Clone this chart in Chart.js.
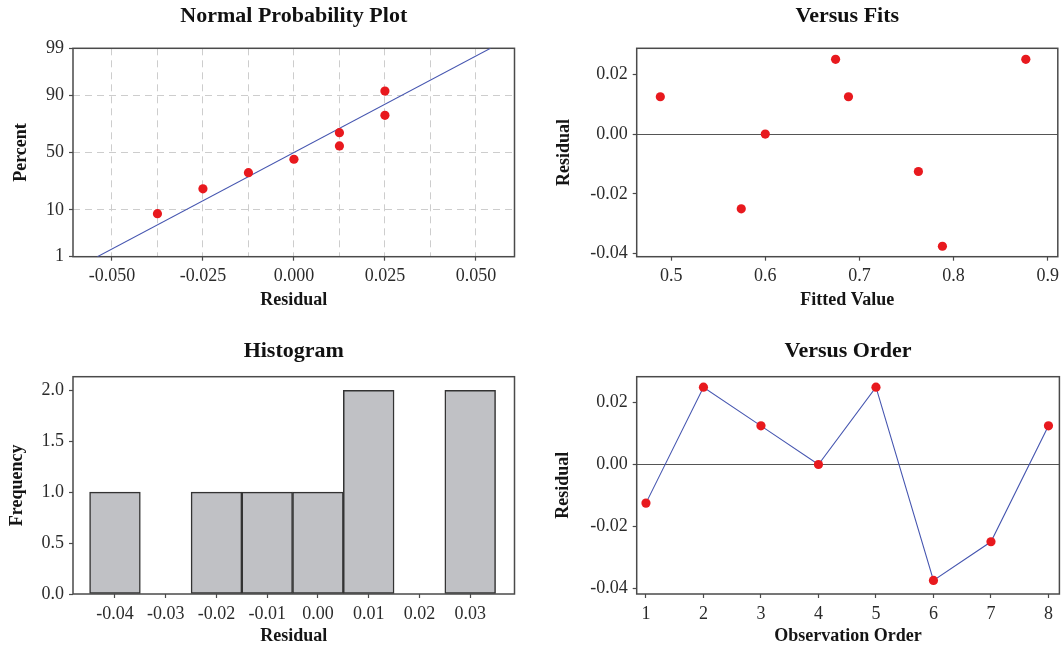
<!DOCTYPE html>
<html>
<head>
<meta charset="utf-8">
<script src="https://cdn.jsdelivr.net/npm/chart.js@4.4.1/dist/chart.umd.min.js"></script>
<style>
  html, body { margin: 0; padding: 0; background: #fff; overflow: hidden; }
  .cell { position: absolute; width: 532px; height: 325px; }
</style>
</head>
<body>
<div class="cell" style="left:0;top:0"><canvas id="npp" width="532" height="325"></canvas></div>
<div class="cell" style="left:532px;top:0"><canvas id="fits" width="532" height="325"></canvas></div>
<div class="cell" style="left:0;top:325px"><canvas id="hist" width="532" height="325"></canvas></div>
<div class="cell" style="left:532px;top:325px"><canvas id="order" width="532" height="325"></canvas></div>
<script>
// Normal probability plot
var residuals = [-0.0375, -0.025, -0.0125, 0.0, 0.0125, 0.0125, 0.025, 0.025];
var percents = [8.6, 20.9, 32.6, 44.0, 55.8, 67.1, 79.7, 91.5];
var fitLineResidual = [-0.054, 0.054];
var fitLinePercent = [1, 99];
var nppXTicks = [-0.05, -0.0375, -0.025, -0.0125, 0, 0.0125, 0.025, 0.0375, 0.05];
var nppYTicks = [1, 10, 50, 90, 99];

// Versus fits
var fittedValues = [0.4885, 0.5745, 0.6, 0.6747, 0.6884, 0.7627, 0.7882, 0.8768];
var fitsResiduals = [0.0125, -0.025, 0.0, 0.025, 0.0125, -0.0125, -0.0375, 0.025];
var fitsXTicks = [0.5, 0.6, 0.7, 0.8, 0.9];
var residualTicks = [-0.04, -0.02, 0, 0.02];

// Histogram
var binCenters = [-0.04, -0.03, -0.02, -0.01, 0.0, 0.01, 0.02, 0.03];
var frequency = [1, 0, 1, 1, 1, 2, 0, 2];
var freqTicks = [0, 0.5, 1, 1.5, 2];

// Versus order
var observation = [1, 2, 3, 4, 5, 6, 7, 8];
var orderResiduals = [-0.0125, 0.025, 0.0125, 0.0, 0.025, -0.0375, -0.025, 0.0125];

var FONT = '"Liberation Serif", "Times New Roman", serif';
var INK = '#2b2b2b';
var AXIS = '#4a4a4a';
var RED = '#e8191e';
var BLUE = '#4656b0';

/*
 inverse of the standard normal cdf (Acklam), used by the probability scale
*/
function probit(p){
  var a = [-39.69683028665376, 220.9460984245205, -275.9285104469687, 138.3577518672690, -30.66479806614716, 2.506628277459239];
  var b = [-54.47609879822406, 161.5858368580409, -155.6989798598866, 66.80131188771972, -13.28068155288572];
  var c = [-0.007784894002430293, -0.3223964580411365, -2.400758277161838, -2.549732539343734, 4.374664141464968, 2.938163982698783];
  var d = [0.007784695709041462, 0.3224671290700398, 2.445134137142996, 3.754408661907416];
  var q, r;
  if(p < 0.02425){
    q = Math.sqrt(-2 * Math.log(p));
    return (((((c[0]*q+c[1])*q+c[2])*q+c[3])*q+c[4])*q+c[5]) / ((((d[0]*q+d[1])*q+d[2])*q+d[3])*q+1);
  }
  if(p > 1 - 0.02425){
    q = Math.sqrt(-2 * Math.log(1 - p));
    return -(((((c[0]*q+c[1])*q+c[2])*q+c[3])*q+c[4])*q+c[5]) / ((((d[0]*q+d[1])*q+d[2])*q+d[3])*q+1);
  }
  q = p - 0.5;
  r = q * q;
  return (((((a[0]*r+a[1])*r+a[2])*r+a[3])*r+a[4])*r+a[5])*q / (((((b[0]*r+b[1])*r+b[2])*r+b[3])*r+b[4])*r+1);
}

class ProbabilityScale extends Chart.LinearScale {
  getPixelForValue(value){
    var lo = probit(this.min / 100), hi = probit(this.max / 100);
    return this.getPixelForDecimal((probit(value / 100) - lo) / (hi - lo));
  }
}
ProbabilityScale.id = 'probability';
ProbabilityScale.defaults = {};
Chart.register(ProbabilityScale);

// box around the plot area
var frame = {
  id: 'frame',
  beforeDatasetsDraw: function(chart){
    var a = chart.chartArea, c = chart.ctx;
    c.save();
    c.strokeStyle = AXIS;
    c.lineWidth = 1.5;
    c.strokeRect(a.left, a.top, a.right - a.left, a.bottom - a.top);
    c.restore();
  }
};

// chart title centred over the plot area, not the canvas
var centerTitle = {
  id: 'centerTitle',
  afterLayout: function(chart){
    var t = chart.titleBlock;
    if(t){
      t.left = chart.chartArea.left;
      t.right = chart.chartArea.right;
      t.width = t.right - t.left;
    }
  }
};

function makeAxis(o){
  return {
    type: o.type || 'linear',
    position: o.position,
    min: o.min,
    max: o.max,
    offset: false,
    afterBuildTicks: function(s){ s.ticks = o.ticks.map(function(v){ return {value: v}; }); },
    afterFit: function(s){
      if(o.position === 'left') s.width = o.size; else s.height = o.size;
    },
    ticks: {
      font: {family: FONT, size: 18},
      color: INK,
      padding: o.position === 'left' ? 5 : 5,
      maxRotation: 0,
      autoSkip: false,
      callback: o.format
    },
    grid: {
      drawOnChartArea: !!o.gridColor,
      color: o.gridColor || 'rgba(0,0,0,0)',
      lineWidth: 1,
      tickLength: 4,
      tickColor: o.tickColor || AXIS,
      tickWidth: 1.2,
      offset: false
    },
    border: {display: false, dash: o.dash || []},
    title: {
      display: true,
      text: o.title,
      font: {family: FONT, size: 18, weight: 'bold'},
      color: '#151515',
      padding: o.position === 'left' ? {top: o.titlePad, bottom: 0} : {top: 0, bottom: o.titlePad}
    }
  };
}

function baseOptions(title, titlePad, padRight, scales){
  return {
    responsive: false,
    devicePixelRatio: 1,
    animation: false,
    events: [],
    layout: {padding: {left: 0, right: padRight, top: 0, bottom: 0}},
    plugins: {
      legend: {display: false},
      tooltip: {enabled: false},
      title: {
        display: true,
        text: title,
        font: {family: FONT, size: 22, weight: 'bold'},
        color: '#111',
        padding: titlePad
      }
    },
    scales: scales
  };
}

var dots = {
  pointRadius: 4.6,
  pointBackgroundColor: RED,
  pointBorderWidth: 0,
  borderColor: RED
};

var zeroLine = function(ctx){ return ctx.tick && ctx.tick.value === 0 ? '#555' : 'rgba(0,0,0,0)'; };

// Normal Probability Plot
new Chart(document.getElementById('npp'), {
  type: 'scatter',
  data: {
    datasets: [
      Object.assign({
        data: residuals.map(function(r, i){ return {x: r, y: percents[i]}; })
      }, dots),
      {
        data: fitLineResidual.map(function(r, i){ return {x: r, y: fitLinePercent[i]}; }),
        showLine: true,
        borderColor: BLUE,
        borderWidth: 1.1,
        pointRadius: 0
      }
    ]
  },
  options: baseOptions('Normal Probability Plot', {top: 2.8, bottom: 19.1}, 17.5, {
    x: makeAxis({
      position: 'bottom', min: -0.0607, max: 0.0606, ticks: nppXTicks, size: 68.3,
      title: 'Residual', titlePad: 14.2, gridColor: '#cdcdcd', dash: [7, 5],
      tickColor: function(ctx){ return ctx.index % 2 === 0 ? AXIS : 'rgba(0,0,0,0)'; },
      format: function(v, i){ return i % 2 === 0 ? v.toFixed(3) : ''; }
    }),
    y: makeAxis({
      type: 'probability', position: 'left', min: 1, max: 99, ticks: nppYTicks, size: 73,
      title: 'Percent', titlePad: 10.2, gridColor: '#cdcdcd', dash: [7, 5],
      format: function(v){ return String(v); }
    })
  }),
  plugins: [frame, centerTitle]
});

// Versus Fits
new Chart(document.getElementById('fits'), {
  type: 'scatter',
  data: {
    datasets: [
      Object.assign({
        data: fittedValues.map(function(f, i){ return {x: f, y: fitsResiduals[i]}; })
      }, dots)
    ]
  },
  options: baseOptions('Versus Fits', {top: 2.8, bottom: 19.1}, 2, {
    x: makeAxis({
      position: 'bottom', min: 0.4634, max: 0.9108, ticks: fitsXTicks, size: 68.3,
      title: 'Fitted Value', titlePad: 14.2,
      format: function(v){ return v.toFixed(1); }
    }),
    y: makeAxis({
      position: 'left', min: -0.041, max: 0.0287, ticks: residualTicks, size: 104.7,
      title: 'Residual', titlePad: 21.2, gridColor: zeroLine,
      format: function(v){ return v.toFixed(2); }
    })
  }),
  plugins: [frame, centerTitle]
});

// Histogram
new Chart(document.getElementById('hist'), {
  type: 'bar',
  data: {
    datasets: [{
      data: binCenters.map(function(b, i){ return {x: b, y: frequency[i]}; }),
      backgroundColor: '#c0c1c5',
      borderColor: '#333',
      borderWidth: 1.5,
      borderSkipped: false,
      barPercentage: 1,
      categoryPercentage: 1
    }]
  },
  options: baseOptions('Histogram', {top: 13.5, bottom: 11.8}, 17.5, {
    x: makeAxis({
      position: 'bottom', min: -0.04827, max: 0.03873, ticks: binCenters, size: 56,
      title: 'Residual', titlePad: 3.2,
      format: function(v){ return v.toFixed(2); }
    }),
    y: makeAxis({
      position: 'left', min: 0, max: 2.134, ticks: freqTicks, size: 73,
      title: 'Frequency', titlePad: 6.2,
      format: function(v){ return v.toFixed(1); }
    })
  }),
  plugins: [frame, centerTitle]
});

// Versus Order
new Chart(document.getElementById('order'), {
  type: 'scatter',
  data: {
    datasets: [
      Object.assign({
        data: observation.map(function(n, i){ return {x: n, y: orderResiduals[i]}; }),
        showLine: true,
        borderColor: BLUE,
        borderWidth: 1.1
      }, {pointRadius: 4.6, pointBackgroundColor: RED, pointBorderWidth: 0})
    ]
  },
  options: baseOptions('Versus Order', {top: 13.5, bottom: 11.8}, 2, {
    x: makeAxis({
      position: 'bottom', min: 0.839, max: 8.19, ticks: observation, size: 56,
      title: 'Observation Order', titlePad: 3.2,
      format: function(v){ return String(v); }
    }),
    y: makeAxis({
      position: 'left', min: -0.0419, max: 0.0284, ticks: residualTicks, size: 104.7,
      title: 'Residual', titlePad: 20.2, gridColor: zeroLine,
      format: function(v){ return v.toFixed(2); }
    })
  }),
  plugins: [frame, centerTitle]
});
</script>
</body>
</html>
